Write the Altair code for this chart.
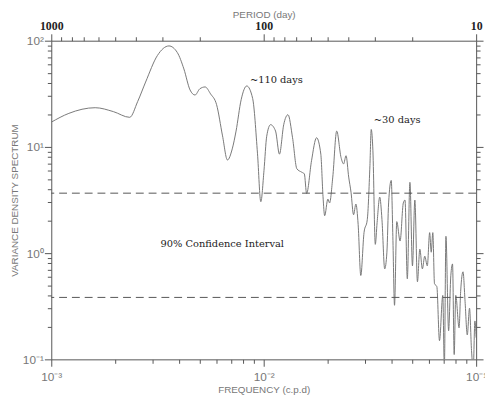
import altair as alt
import pandas as pd

# ---- data ----
freq = [0.00100, 0.00121, 0.00161, 0.00196, 0.00234, 0.00255, 0.00278, 0.00316, 0.00358, 0.00392,
        0.00421, 0.00450, 0.00475, 0.00500, 0.00530, 0.00562, 0.00600, 0.00640, 0.00675, 0.00711,
        0.00741, 0.00783, 0.00832, 0.00887, 0.00935, 0.00969, 0.01003, 0.01033, 0.01077, 0.01137,
        0.01186, 0.01242, 0.01301, 0.01367, 0.01432, 0.01511, 0.01553, 0.01592, 0.01679, 0.01773,
        0.01857, 0.01902, 0.01936, 0.02005, 0.02042, 0.02114, 0.02206, 0.02312, 0.02377, 0.02441,
        0.02512, 0.02576, 0.02648, 0.02716, 0.02783, 0.02864, 0.02966, 0.03073, 0.03162, 0.03207,
        0.03266, 0.03352, 0.03418, 0.03517, 0.03603, 0.03711, 0.03801, 0.03872, 0.03984, 0.04054,
        0.04128, 0.04230, 0.04385, 0.04541, 0.04625, 0.04742, 0.04878, 0.05014, 0.05146, 0.05292,
        0.05431, 0.05583, 0.05728, 0.05890, 0.06042, 0.06145, 0.06252, 0.06367, 0.06531, 0.06720,
        0.06966, 0.07085, 0.07208, 0.07419, 0.07598, 0.07742, 0.07882, 0.08016, 0.08311, 0.08453,
        0.08674, 0.08867, 0.09083, 0.09307, 0.09511, 0.09690, 0.09866, 0.10000]
spectrum = [17.1, 20.7, 23.4, 21.5, 19.0, 26.7, 40.8, 72.6, 89.3, 77.4,
            54.2, 34.4, 30.8, 35.2, 36.7, 31.6, 25.0, 12.7, 7.53, 9.58,
            14.1, 27.8, 37.5, 28.6, 8.61, 3.05, 6.0, 12.6, 16.2, 14.1,
            8.55, 16.2, 20.1, 12.2, 6.23, 5.78, 5.58, 3.65, 7.41, 12.2,
            8.55, 3.40, 2.25, 3.23, 2.97, 5.20, 14.1, 7.96, 6.92, 8.26,
            5.20, 3.75, 2.30, 2.90, 1.86, 0.616, 1.56, 2.07, 6.66, 14.6,
            9.19, 1.21, 1.94, 3.37, 2.07, 0.711, 1.02, 2.97, 4.84, 1.44,
            0.323, 1.98, 1.30, 2.97, 3.16, 0.574, 4.64, 0.759, 3.16, 0.538,
            1.09, 0.711, 0.937, 0.759, 1.56, 1.02, 1.56, 0.516, 0.484, 0.150,
            0.400, 0.081, 1.44, 0.186, 0.612, 0.791, 0.111, 0.400, 0.198, 0.435,
            0.667, 0.352, 0.170, 0.303, 0.121, 0.081, 0.230, 0.160]

conf_levels = [3.67, 0.383]

x_decades = [0.001, 0.01, 0.1]
x_tick_labels = ["10⁻³", "10⁻²", "10⁻¹"]
y_decades = [0.1, 1.0, 10.0, 100.0]
y_tick_labels = ["10⁻¹", "10⁰", "10¹", "10²"]

period_ticks = [1000, 900, 800, 700, 600, 500, 400, 300, 200,
                100, 90, 80, 70, 60, 50, 40, 30, 20, 10]
period_labels = [1000, 100, 10]

ann_text = ["~110 days", "~30 days", "90% Confidence Interval"]
ann_freq = [0.00861, 0.0330, 0.00327]
ann_val = [42.6, 17.8, 1.21]

# ---- tables ----
line_df = pd.DataFrame({"freq": freq, "spec": spectrum})
conf_df = pd.DataFrame({"spec": conf_levels})
ann_df = pd.DataFrame({"freq": ann_freq, "spec": ann_val, "label": ann_text})

x_minor = [m * d for d in x_decades[:-1] for m in range(1, 10)] + [x_decades[-1]]
y_minor = [m * d for d in y_decades[:-1] for m in range(1, 10)] + [y_decades[-1]]
top_vals = [1.0 / p for p in period_ticks]


def label_expr(decades, labels):
    parts = []
    for d, lab in zip(decades, labels):
        parts.append(f"abs(datum.value/{d!r} - 1) < 1e-6 ? '{lab}'")
    return " : ".join(parts) + " : ''"


top_expr = " : ".join(
    f"abs(datum.value*{p} - 1) < 1e-6 ? '{p}'" for p in period_labels) + " : ''"

is_decade = "abs(log(datum.value)/LN10 - round(log(datum.value)/LN10)) < 0.001"
top_major = " || ".join(f"abs(datum.value*{p} - 1) < 1e-6" for p in period_labels)

tick_major = {"condition": {"test": is_decade, "value": 7}, "value": 4}
tick_top = {"condition": {"test": top_major, "value": 7}, "value": 4}

xscale = alt.Scale(type="log", domain=[0.001, 0.1], nice=False)
yscale = alt.Scale(type="log", domain=[0.1, 100], nice=False)

axis_common = dict(grid=False, domainColor="#555", tickColor="#555",
                   labelFont="Liberation Sans", labelColor="#777", labelFontSize=12,
                   titleFont="Liberation Sans", titleColor="#777", titleFontSize=10,
                   titleFontWeight="normal", labelFlush=False, labelOverlap=False)

x_bottom = alt.Axis(orient="bottom", values=x_minor, labelExpr=label_expr(x_decades, x_tick_labels),
                    tickSize=tick_major, labelPadding=5, title="FREQUENCY (c.p.d)",
                    titlePadding=3, **axis_common)
y_left = alt.Axis(orient="left", values=y_minor, labelExpr=label_expr(y_decades, y_tick_labels),
                  tickSize=tick_major, labelPadding=1, title="VARIANCE DENSITY SPECTRUM",
                  titlePadding=3, **axis_common)
x_top = alt.Axis(orient="top", values=top_vals, labelExpr=top_expr, tickSize=tick_top,
                 labelPadding=1, title="PERIOD (day)", titlePadding=1,
                 **{**axis_common, "labelFont": "Liberation Serif", "labelColor": "#222",
                    "labelFontSize": 12, "labelFontWeight": "bold"})
y_right = alt.Axis(orient="right", values=y_minor, labels=False, tickSize=tick_major,
                   title=None, grid=False, domainColor="#555", tickColor="#555")

spec_line = alt.Chart(line_df).mark_line(color="#777", strokeWidth=1, clip=True,
                                         interpolate="monotone").encode(
    x=alt.X("freq:Q", scale=xscale, axis=x_bottom),
    y=alt.Y("spec:Q", scale=yscale, axis=y_left),
    order="freq:Q",
)

conf_rules = alt.Chart(conf_df).mark_rule(color="#555", strokeWidth=1, strokeDash=[8, 5]).encode(
    y=alt.Y("spec:Q", scale=yscale, axis=None),
)

notes = alt.Chart(ann_df).mark_text(align="left", baseline="middle", font="DejaVu Serif",
                                    fontSize=10, color="#222").encode(
    x=alt.X("freq:Q", scale=xscale, axis=None),
    y=alt.Y("spec:Q", scale=yscale, axis=None),
    text="label:N",
)

frame = alt.Chart(line_df).mark_line(opacity=0).encode(
    x=alt.X("freq:Q", scale=xscale, axis=x_top),
    y=alt.Y("spec:Q", scale=yscale, axis=y_right),
)

chart = alt.layer(spec_line, conf_rules, notes, frame).resolve_axis(
    x="independent", y="independent"
).properties(
    width=432, height=324,
    autosize=alt.AutoSizeParams(type="none"),
    padding={"left": 44, "top": 30, "right": 9, "bottom": 34},
    background="white",
).configure_view(stroke=None)

chart.save("out.html", embed_options={"renderer": "svg", "actions": False})
